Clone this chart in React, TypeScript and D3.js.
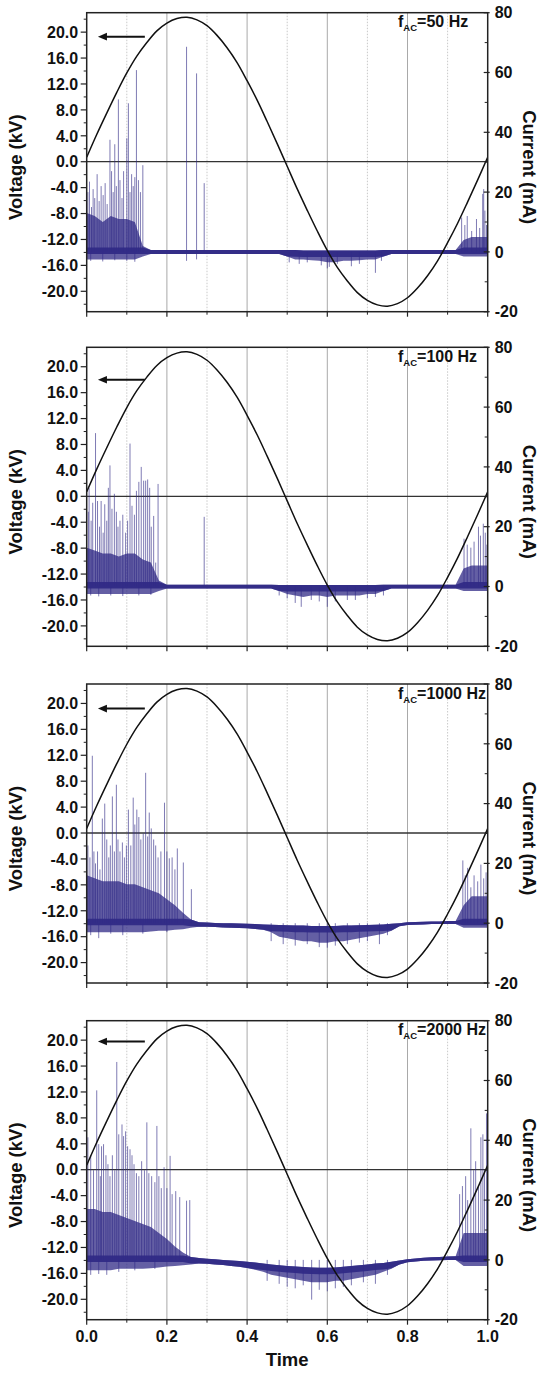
import React from 'react';
import * as d3 from 'd3';

const W = 547;
const H = 1373;

// ---- labels / ticks ----
const freqLabels = ['50', '100', '1000', '2000'];
const timeMajor = [0, 0.2, 0.4, 0.6, 0.8, 1.0];
const timeMinor = [0.1, 0.3, 0.5, 0.7, 0.9];
const voltMajor = [-20, -16, -12, -8, -4, 0, 4, 8, 12, 16, 20];
const voltMinor = [-22, -18, -14, -10, -6, -2, 2, 6, 10, 14, 18, 22];
const currMajor = [-20, 0, 20, 40, 60, 80];
const currMinor = [-10, 10, 30, 50, 70];
const arrowKV = [19.3, 18.0, 19.2, 19.8];

// ---- applied voltage (kV) ----
const voltT = [0, 0.025, 0.05, 0.075, 0.1, 0.125, 0.15, 0.175, 0.2, 0.225, 0.25, 0.275, 0.3, 0.325, 0.35, 0.375, 0.4, 0.425, 0.45, 0.475, 0.5,
  0.525, 0.55, 0.575, 0.6, 0.625, 0.65, 0.675, 0.7, 0.725, 0.75, 0.775, 0.8, 0.825, 0.85, 0.875, 0.9, 0.925, 0.95, 0.975, 1.0];
const voltV = [0.7, 4.2, 7.5, 10.7, 13.7, 16.3, 18.4, 20.2, 21.4, 22.1, 22.3, 21.9, 21.0, 19.5, 17.6, 15.3, 12.5, 9.5, 6.2, 2.8, -0.7,
  -4.2, -7.5, -10.7, -13.7, -16.3, -18.4, -20.2, -21.4, -22.1, -22.3, -21.9, -21.0, -19.5, -17.6, -15.3, -12.5, -9.5, -6.2, -2.8, 0.7];

// ---- current noise band (mA), sampled every 0.02 ----
const bandT = [0, 0.02, 0.04, 0.06, 0.08, 0.1, 0.12, 0.14, 0.16, 0.18, 0.2, 0.22, 0.24, 0.26, 0.28, 0.3, 0.32, 0.34, 0.36, 0.38, 0.4,
  0.42, 0.44, 0.46, 0.48, 0.5, 0.52, 0.54, 0.56, 0.58, 0.6, 0.62, 0.64, 0.66, 0.68, 0.7, 0.72, 0.74, 0.76, 0.78, 0.8,
  0.82, 0.84, 0.86, 0.88, 0.9, 0.92, 0.94, 0.96, 0.98, 1.0];

const hi50 = [13, 12, 10, 12, 11, 11, 10, 2,
  0.6, 0.6, 0.6, 0.6, 0.6, 0.6, 0.6, 0.6, 0.6, 0.6, 0.6, 0.6, 0.6, 0.6, 0.6, 0.6, 0.6,
  0.6, 0.6, 0.5, 0.5, 0.5, 0.5, 0.5, 0.5, 0.5, 0.5, 0.5, 0.5, 0.6,
  0.6, 0.6, 0.6, 0.6, 0.6, 0.6, 0.6, 0.6, 0.6, 4, 5, 5, 5];
const lo50 = [-2.5, -2.5, -2.5, -2.5, -2.5, -2.5, -2.5, -1.5,
  -0.7, -0.7, -0.7, -0.7, -0.7, -0.7, -0.7, -0.7, -0.7, -0.7, -0.7, -0.7, -0.7, -0.7, -0.7, -0.7, -0.7,
  -1.5, -2.5, -2.5, -2.8, -3, -3.5, -3.5, -3, -3, -2.8, -2.5, -2.5, -1.5,
  -0.7, -0.7, -0.7, -0.7, -0.7, -0.7, -0.7, -0.7, -0.7, -1.5, -1.5, -1.5, -1.5];

const hi100 = [13, 12, 11, 11, 10, 11, 11, 9, 8, 2,
  0.6, 0.6, 0.6, 0.6, 0.6, 0.6, 0.6, 0.6, 0.6, 0.6, 0.6, 0.6, 0.6, 0.6,
  0.5, 0.5, 0.5, 0.5, 0.5, 0.5, 0.5, 0.5, 0.5, 0.5, 0.5, 0.5, 0.5, 0.6,
  0.6, 0.6, 0.6, 0.6, 0.6, 0.6, 0.6, 0.6, 0.6, 6, 7, 7, 7];
const lo100 = [-2.5, -2.5, -2.5, -2.5, -2.5, -2.5, -2.5, -2.5, -2.5, -1.5,
  -0.7, -0.7, -0.7, -0.7, -0.7, -0.7, -0.7, -0.7, -0.7, -0.7, -0.7, -0.7, -0.7, -0.7,
  -1.5, -2.5, -3, -3.5, -3, -3, -3.5, -3, -3, -3, -3, -2.5, -2.5, -1.5,
  -0.7, -0.7, -0.7, -0.7, -0.7, -0.7, -0.7, -0.7, -0.7, -1.5, -1.5, -1.5, -1.5];

const hi1000 = [16, 15, 14, 14, 14, 13, 13, 12, 11, 10, 8, 6, 3.5, 1.2,
  0.3, 0.2, 0.1, 0, 0, -0.1, -0.2, -0.3, -0.4,
  -0.5, -0.6, -0.7, -0.8, -0.8, -0.9, -0.9, -0.9, -0.9, -0.8, -0.8, -0.7, -0.6, -0.5, -0.4, -0.2, 0,
  0.3, 0.4, 0.5, 0.6, 0.6, 0.7, 0.7, 6, 9, 9, 9];
const lo1000 = [-3, -3, -3, -3, -3, -3, -3, -3, -2.8, -2.5, -2.5, -2.2, -2, -1.5,
  -1.2, -1.2, -1.3, -1.4, -1.5, -1.6, -1.7, -1.9, -2.2,
  -3, -4.5, -5, -5.5, -6, -6, -6.5, -6.5, -6, -6, -5.5, -5, -4.5, -4, -3.5, -2.5, -1,
  -0.6, -0.5, -0.4, -0.3, -0.3, -0.3, -0.3, -1.5, -1.5, -1.5, -1.5];

const hi2000 = [17, 17, 16, 16, 15, 14, 13, 12, 11, 9, 7, 4.5, 2.5, 1,
  0.6, 0.4, 0.2, 0, -0.2, -0.4, -0.6, -0.9, -1.2,
  -1.5, -1.8, -2, -2.2, -2.4, -2.5, -2.6, -2.6, -2.5, -2.3, -2, -1.8, -1.5, -1.2, -1, -0.6, -0.2,
  0.2, 0.5, 0.7, 0.9, 1, 1.1, 1.2, 9, 9, 9, 9];
const lo2000 = [-3.5, -3.5, -3.5, -3.5, -3, -3, -3, -3, -2.8, -2.5, -2.2, -2, -1.8, -1.5,
  -1.2, -1.3, -1.5, -1.7, -2, -2.3, -2.7, -3.3, -4,
  -5, -5.5, -6, -6.5, -7, -7.5, -7.5, -7.5, -7, -7, -6.5, -6, -5.5, -5, -4, -3, -1.5,
  -0.8, -0.5, -0.3, -0.2, -0.1, 0, 0, -2, -2, -2, -2];

// ---- individual discharge spikes [time, current mA] ----
const spikes50: [number, number][] = [
  [0.003, 20], [0.007, 23.5], [0.012, 15], [0.016, 21], [0.02, 18], [0.026, 26], [0.031, 17], [0.036, 22], [0.041, 19],
  [0.046, 23], [0.051, 16], [0.058, 37.5], [0.062, 27], [0.066, 20], [0.07, 36], [0.074, 22], [0.079, 51], [0.083, 24],
  [0.088, 18], [0.092, 27], [0.1, 38], [0.104, 49.7], [0.108, 20], [0.112, 26], [0.116, 22], [0.12, 25], [0.124, 60.8],
  [0.129, 24], [0.134, 20], [0.14, 29],
  [0.01, -3], [0.04, -3.2], [0.07, -2.8], [0.1, -3], [0.12, -3.3],
  [0.249, 68.6], [0.249, -3], [0.274, 59.7], [0.274, -2.5], [0.293, 23],
  [0.505, -3.5], [0.53, -4], [0.55, -3.5], [0.585, -4.5], [0.6, -5.5], [0.605, -5], [0.625, -4], [0.66, -4.8], [0.68, -4],
  [0.72, -7], [0.735, -3],
  [0.935, 11.5], [0.943, 9], [0.949, 12], [0.96, 7], [0.972, 11], [0.98, 8], [0.9875, 19.4], [0.99, 21], [0.993, 13.8], [0.997, 9],
];
const spikes100: [number, number][] = [
  [0.004, 25], [0.006, 33], [0.011, 22], [0.015, 28], [0.022, 51.3], [0.027, 28.6], [0.032, 20], [0.036, 28.6], [0.041, 18],
  [0.045, 27.5], [0.05, 22], [0.054, 33], [0.058, 40.5], [0.063, 26], [0.069, 31], [0.074, 25], [0.078, 20], [0.083, 22],
  [0.09, 24], [0.097, 18], [0.102, 22], [0.108, 47.8], [0.113, 27], [0.119, 24], [0.124, 32], [0.13, 35], [0.136, 40],
  [0.142, 35.4], [0.147, 35.4], [0.152, 35.8], [0.157, 33], [0.161, 20], [0.167, 23.6], [0.172, 8], [0.178, 34.3],
  [0.01, -3], [0.03, -3.3], [0.06, -3], [0.09, -3.2], [0.13, -3], [0.16, -2.8],
  [0.293, 23.3],
  [0.48, -3], [0.5, -4], [0.52, -5.5], [0.535, -6.8], [0.56, -4.5], [0.58, -5], [0.6, -6.8], [0.62, -5], [0.65, -4.5],
  [0.67, -4.5], [0.7, -4], [0.72, -3.5], [0.74, -3],
  [0.941, 16], [0.949, 14], [0.958, 13], [0.966, 15], [0.977, 20], [0.982, 17], [0.989, 21], [0.994, 18], [0.998, 14],
];
const spikes1000: [number, number][] = [
  [0.003, 26], [0.008, 22], [0.014, 56], [0.018, 24], [0.022, 20], [0.027, 24], [0.033, 18], [0.039, 35], [0.045, 40],
  [0.05, 28], [0.055, 22], [0.059, 26], [0.064, 42.4], [0.069, 24], [0.074, 46.3], [0.078, 28], [0.083, 24], [0.089, 27],
  [0.094, 22], [0.099, 26], [0.104, 38], [0.11, 26], [0.116, 42], [0.12, 33], [0.125, 38], [0.13, 35.5], [0.135, 28],
  [0.141, 30], [0.147, 50.3], [0.152, 29], [0.156, 37], [0.161, 31.7], [0.167, 28], [0.172, 26], [0.178, 22], [0.185, 24],
  [0.194, 40.3], [0.2, 24], [0.206, 21.7], [0.213, 22], [0.22, 18], [0.226, 25], [0.241, 20.3], [0.261, 11.4],
  [0.01, -4], [0.03, -5], [0.06, -3.5], [0.09, -4], [0.14, -3.5], [0.2, -3],
  [0.46, -6], [0.49, -7], [0.52, -7.5], [0.55, -7], [0.58, -8], [0.6, -8.2], [0.62, -7.5], [0.65, -7], [0.68, -6.5],
  [0.7, -6], [0.73, -7], [0.75, -4],
  [0.938, 21], [0.944, 16], [0.95, 18.5], [0.958, 12], [0.966, 16], [0.975, 14], [0.983, 19.6], [0.99, 15], [0.996, 17],
];
const spikes2000: [number, number][] = [
  [0.003, 41], [0.01, 35], [0.017, 30], [0.025, 56.7], [0.03, 38.7], [0.034, 28], [0.037, 38], [0.042, 38.7], [0.048, 35],
  [0.053, 32], [0.058, 28], [0.064, 35], [0.07, 30], [0.075, 66.2], [0.08, 42], [0.088, 45.3], [0.092, 41.4], [0.097, 43],
  [0.102, 38], [0.108, 37], [0.113, 35], [0.118, 32], [0.124, 29], [0.13, 28], [0.137, 33], [0.144, 30], [0.15, 46],
  [0.155, 29], [0.162, 28], [0.17, 26], [0.175, 44.8], [0.18, 28], [0.186, 24], [0.193, 31], [0.2, 24], [0.208, 34.8],
  [0.213, 22], [0.222, 23], [0.232, 21], [0.249, 19.8], [0.257, 20],
  [0.01, -5], [0.03, -4.7], [0.05, -5], [0.08, -4], [0.12, -3.5], [0.17, -3],
  [0.45, -7], [0.48, -8], [0.5, -9], [0.52, -9.5], [0.54, -8.5], [0.561, -13.3], [0.58, -10], [0.6, -10.5], [0.62, -9.5],
  [0.64, -9], [0.66, -8.5], [0.69, -7.5], [0.72, -8], [0.75, -5],
  [0.93, 22], [0.937, 24.7], [0.945, 28], [0.95, 20], [0.958, 44], [0.965, 30], [0.97, 33], [0.977, 25], [0.983, 41],
  [0.988, 42], [0.992, 30], [0.997, 49],
];

const bandHi = [hi50, hi100, hi1000, hi2000];
const bandLo = [lo50, lo100, lo1000, lo2000];
const spikeSets = [spikes50, spikes100, spikes1000, spikes2000];

// ---- layout ----
const panelTops = [12.7, 347.3, 684, 1020.7];
const PH = 299;
const X0 = 86.7;
const X1 = 487.7;
const FONT = "'Liberation Sans', Arial, Helvetica, sans-serif";
const TRACE = '#302a86';
const TICK_FS = 16;
const TITLE_FS = 18.5;

type BandPt = { t: number; hi: number; lo: number };

function Panel({ idx, x }: { idx: number; x: d3.ScaleLinear<number, number> }) {
  const top = panelTops[idx];
  const bottom = top + PH;
  const yV = d3.scaleLinear().domain([-23.15, 23]).range([bottom, top]);
  const yI = d3.scaleLinear().domain([-20, 80]).range([bottom, top]);
  const clipId = `clip${idx}`;

  const band: BandPt[] = bandT.map((t, i) => ({ t, hi: bandHi[idx][i], lo: bandLo[idx][i] }));
  const outer = d3.area<BandPt>().x(d => x(d.t)).y0(d => yI(d.lo)).y1(d => yI(d.hi));
  // dense core of the trace near its baseline
  const core = d3.area<BandPt>().x(d => x(d.t))
    .y0(d => yI(Math.max(d.lo, Math.min(d.hi, 1.5) - 2.2)))
    .y1(d => yI(Math.min(d.hi, 1.5)));
  const volt = voltT.map((t, i) => [t, voltV[i]] as [number, number]);
  const vline = d3.line<[number, number]>().x(d => x(d[0])).y(d => yV(d[1])).curve(d3.curveCatmullRom);

  const ay = yV(arrowKV[idx]);
  const tip = x(0.028);
  const tail = x(0.145);

  return (
    <g>
      <defs>
        <clipPath id={clipId}>
          <rect x={X0} y={top} width={X1 - X0} height={PH} />
        </clipPath>
      </defs>
      {/* grid */}
      {timeMinor.map(t => (
        <line key={'gm' + t} x1={x(t)} x2={x(t)} y1={top} y2={bottom} stroke="#c9c9c9" strokeWidth={1} strokeDasharray="1.5,1.5" />
      ))}
      {timeMajor.slice(1, -1).map(t => (
        <line key={'gM' + t} x1={x(t)} x2={x(t)} y1={top} y2={bottom} stroke="#a9a9a9" strokeWidth={1} />
      ))}
      <g clipPath={`url(#${clipId})`}>
        <line x1={X0} x2={X1} y1={yV(0)} y2={yV(0)} stroke="#333" strokeWidth={1.3} />
        <path d={outer(band) || ''} fill={TRACE} fillOpacity={0.75} />
        {spikeSets[idx].map(([t, v], i) => (
          <line key={'s' + i} x1={x(t)} x2={x(t)} y1={yI(0)} y2={yI(v)} stroke={TRACE} strokeWidth={1} strokeOpacity={0.62} />
        ))}
        <path d={core(band) || ''} fill={TRACE} fillOpacity={0.95} />
        <path d={vline(volt) || ''} fill="none" stroke="#111" strokeWidth={1.5} />
      </g>
      {/* arrow */}
      <line x1={tail} x2={tip + 7} y1={ay} y2={ay} stroke="#111" strokeWidth={2} />
      <path d={`M${tip},${ay} L${tip + 9},${ay - 3.8} L${tip + 9},${ay + 3.8} Z`} fill="#111" />
      {/* frame */}
      <rect x={X0} y={top} width={X1 - X0} height={PH} fill="none" stroke="#222" strokeWidth={1.5} />
      {/* left axis */}
      {voltMajor.map(v => (
        <g key={'vl' + v}>
          <line x1={X0 - 6} x2={X0} y1={yV(v)} y2={yV(v)} stroke="#222" strokeWidth={1.2} />
          <text x={X0 - 8.5} y={yV(v)} dy="0.36em" textAnchor="end" fontSize={TICK_FS} fontWeight="bold" fill="#111" fontFamily={FONT}>
            {v.toFixed(1)}
          </text>
        </g>
      ))}
      {voltMinor.map(v => (
        <line key={'vm' + v} x1={X0 - 3} x2={X0} y1={yV(v)} y2={yV(v)} stroke="#222" strokeWidth={1} />
      ))}
      {/* right axis */}
      {currMajor.map(v => (
        <g key={'cl' + v}>
          <line x1={X1 - 4} x2={X1 + 2} y1={yI(v)} y2={yI(v)} stroke="#222" strokeWidth={1.2} />
          <text x={X1 + 7} y={yI(v)} dy="0.36em" textAnchor="start" fontSize={TICK_FS} fontWeight="bold" fill="#111" fontFamily={FONT}>
            {v}
          </text>
        </g>
      ))}
      {currMinor.map(v => (
        <line key={'cm' + v} x1={X1 - 3} x2={X1} y1={yI(v)} y2={yI(v)} stroke="#222" strokeWidth={1} />
      ))}
      {/* bottom ticks */}
      {timeMajor.map(t => (
        <line key={'tM' + t} x1={x(t)} x2={x(t)} y1={bottom} y2={bottom + 5} stroke="#222" strokeWidth={1.2} />
      ))}
      {timeMinor.map(t => (
        <line key={'tm' + t} x1={x(t)} x2={x(t)} y1={bottom} y2={bottom + 3} stroke="#222" strokeWidth={1} />
      ))}
      {/* axis titles */}
      <text transform={`translate(15,${(top + bottom) / 2 + 5}) rotate(-90)`} textAnchor="middle" dominantBaseline="central"
        fontSize={TITLE_FS} fontWeight="bold" fill="#111" fontFamily={FONT}>Voltage (kV)</text>
      <text transform={`translate(529,${(top + bottom) / 2 + 5}) rotate(90)`} textAnchor="middle" dominantBaseline="central"
        fontSize={TITLE_FS} fontWeight="bold" fill="#111" fontFamily={FONT}>Current (mA)</text>
      {/* legend */}
      <text x={398} y={top + 14.5} fontSize={16} fontWeight="bold" fill="#111" fontFamily={FONT}>
        f<tspan fontSize={9.5} dy={4}>AC</tspan><tspan dy={-4}>={freqLabels[idx]} Hz</tspan>
      </text>
    </g>
  );
}

export default function App() {
  const x = d3.scaleLinear().domain([0, 1]).range([X0, X1]);
  const lastBottom = panelTops[3] + PH;
  return (
    <svg width={W} height={H} style={{ position: 'absolute', left: 0, top: 0, display: 'block', background: '#fff' }}>
      <rect x={0} y={0} width={W} height={H} fill="#fff" />
      {panelTops.map((_, i) => <Panel key={i} idx={i} x={x} />)}
      {timeMajor.map(t => (
        <text key={'xl' + t} x={x(t)} y={lastBottom + 22} textAnchor="middle" fontSize={TICK_FS} fontWeight="bold" fill="#111" fontFamily={FONT}>
          {t.toFixed(1)}
        </text>
      ))}
      <text x={(X0 + X1) / 2} y={lastBottom + 46} textAnchor="middle" fontSize={TITLE_FS} fontWeight="bold" fill="#111" fontFamily={FONT}>Time</text>
    </svg>
  );
}
